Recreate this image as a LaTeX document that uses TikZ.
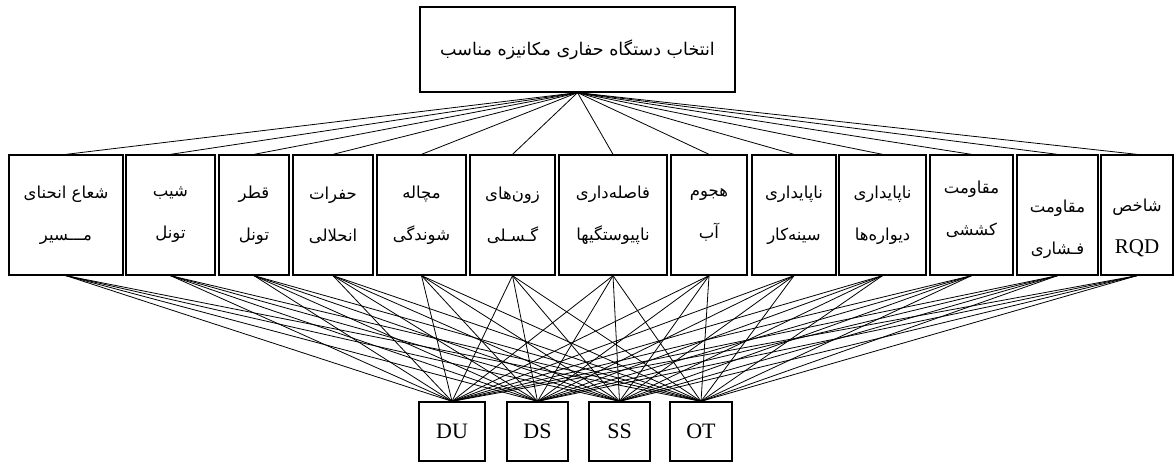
\documentclass[tikz,border=0pt]{standalone}
\usepackage{fontspec}
\setmainfont{Liberation Serif}
\newfontfamily\arabicfont[Script=Arabic]{DejaVu Sans}
\TeXXeTstate=1
\newcommand{\prs}[1]{{\arabicfont\beginR #1\endR}}
\tikzset{
  box/.style={draw, line width=1.3pt, inner sep=0pt, align=center},
  critbox/.style={box, minimum height=120pt, font=\fontsize{16.5}{42}\selectfont},
  altbox/.style={box, minimum height=59pt, font=\fontsize{22}{30}\selectfont},
  link/.style={line width=0.8pt}
}
\begin{document}
\begin{tikzpicture}[x=1pt,y=-1pt]
\useasboundingbox (0,0) rectangle (1174,463);
% goal
\node[box, minimum width=315pt, minimum height=85pt, font=\fontsize{17.5}{20}\selectfont] (goal) at (577.5,49.5) {\prs{انتخاب دستگاه حفاری مکانیزه مناسب}};
% criteria
\node[critbox, minimum width=114pt] (radius) at (66,215) {\prs{شعاع انحنای}\\\prs{مـــسیر}};
\node[critbox, minimum width=89pt] (slope) at (170.5,215) {\prs{شیب}\\\prs{تونل}};
\node[critbox, minimum width=70pt] (diam) at (254,215) {\prs{قطر}\\\prs{تونل}};
\node[critbox, minimum width=80pt] (karst) at (333,215) {\prs{حفرات}\\\prs{انحلالی}};
\node[critbox, minimum width=89pt] (squeeze) at (421.5,215) {\prs{مچاله}\\\prs{شوندگی}};
\node[critbox, minimum width=85pt] (fault) at (512.5,215) {\prs{زون‌های}\\\prs{گـسـلی}};
\node[critbox, minimum width=108pt] (spacing) at (613,215) {\prs{فاصله‌داری}\\\prs{ناپیوستگیها}};
\node[critbox, minimum width=76pt] (water) at (709,215) {\prs{هجوم}\\\prs{آب}};
\node[critbox, minimum width=84pt] (face) at (794,215) {\prs{ناپایداری}\\\prs{سینه‌کار}};
\node[critbox, minimum width=87pt] (wall) at (882.5,215) {\prs{ناپایداری}\\\prs{دیواره‌ها}};
\node[critbox, minimum width=83pt] (tensile) at (971.5,215) {\prs{مقاومت}\\\prs{کششی}\rule[-14pt]{0pt}{1pt}};
\node[critbox, minimum width=81pt] (ucs) at (1057.5,215) {\rule{0pt}{42pt}\prs{مقاومت}\\\prs{فـشاری}};
\node[critbox, minimum width=72pt] (rqd) at (1137,215) {\rule{0pt}{38pt}\prs{شاخص}\\{\fontsize{21}{42}\selectfont RQD}};
% alternatives
\node[altbox, minimum width=66pt] (DU) at (452,431.5) {DU};
\node[altbox, minimum width=61pt] (DS) at (537.5,431.5) {DS};
\node[altbox, minimum width=61pt] (SS) at (619.5,431.5) {SS};
\node[altbox, minimum width=62pt] (OT) at (701,431.5) {OT};
% connectors
\foreach \c in {radius,slope,diam,karst,squeeze,fault,spacing,water,face,wall,tensile,ucs,rqd}{
  \draw[link] (goal.south) -- (\c.north);
  \foreach \a in {DU,DS,SS,OT}
    \draw[link] (\c.south) -- (\a.north);
}
\end{tikzpicture}
\end{document}
